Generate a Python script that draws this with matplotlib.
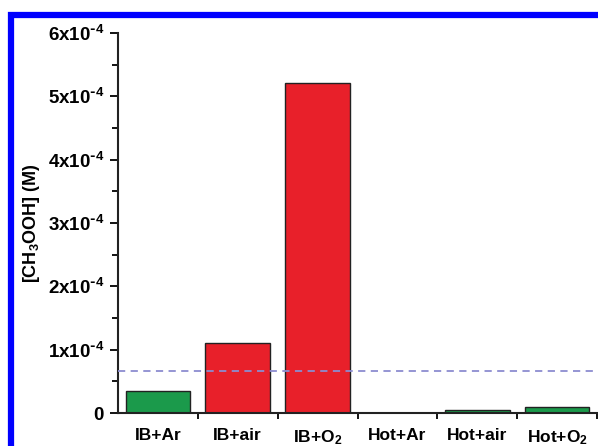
import matplotlib
matplotlib.use("Agg")
import matplotlib.pyplot as plt
from matplotlib.lines import Line2D
import numpy as np

categories = ["IB+Ar", "IB+air", "IB+O$_2$", "Hot+Ar", "Hot+air", "Hot+O$_2$"]
values = [0.35e-4, 1.10e-4, 5.21e-4, 0.0, 0.05e-4, 0.10e-4]
bar_colors = ["#1b9a4b", "#e8202a", "#e8202a", "#1b9a4b", "#1b9a4b", "#1b9a4b"]
threshold = 0.67e-4
ytick_vals = [0, 1e-4, 2e-4, 3e-4, 4e-4, 5e-4, 6e-4]
ytick_labels = ["0", r"1x10$^{\text{-}4}$", r"2x10$^{\text{-}4}$", r"3x10$^{\text{-}4}$",
                r"4x10$^{\text{-}4}$", r"5x10$^{\text{-}4}$", r"6x10$^{\text{-}4}$"]

plt.rcParams['font.family'] = ['Liberation Sans', 'DejaVu Sans']
plt.rcParams['mathtext.default'] = 'regular'
plt.rcParams['font.weight'] = 'bold'

fig = plt.figure(figsize=(5.98, 4.46), dpi=100)
ax = fig.add_axes([118/598, 1 - 413/446, (597 - 118)/598, (413 - 33)/446])

x = np.arange(len(categories))
ax.bar(x, values, width=0.81, color=bar_colors, edgecolor="#222222", linewidth=1.0, zorder=2)
ax.axhline(threshold, color="#8c8cd0", linestyle=(0, (4, 3)), linewidth=1.3, zorder=3)

ax.set_xlim(-0.5, len(categories) - 0.5)
ax.set_ylim(0, 6e-4)

ax.set_yticks(ytick_vals)
ax.set_yticklabels(ytick_labels, fontsize=13.5, fontweight='bold')
ax.set_yticks(np.arange(0.5e-4, 6e-4, 1e-4), minor=True)

ax.set_xticks(np.arange(0.5, len(categories) - 0.5 + 0.01, 1.0))
ax.set_xticklabels([])
ax.set_xticks(x, minor=True)
ax.set_xticklabels(categories, minor=True, fontsize=12.5, fontweight='bold')
ax.tick_params(axis='x', which='minor', length=0, pad=11)
ax.tick_params(axis='x', which='major', length=4, width=1.3, direction='out')
ax.tick_params(axis='y', which='major', length=6, width=1.3, direction='out', pad=4)
ax.tick_params(axis='y', which='minor', length=4, width=1.3, direction='out')

for s in ['top', 'right']:
    ax.spines[s].set_visible(False)
for s in ['left', 'bottom']:
    ax.spines[s].set_linewidth(1.5)
    ax.spines[s].set_color("#222222")

ax.set_ylabel("[CH$_3$OOH] (M)", fontsize=13, fontweight='bold', labelpad=4)

# blue frame
fig.add_artist(Line2D([11/598, 11/598, 1.01], [-0.01, 1 - 14.5/446, 1 - 14.5/446],
                      transform=fig.transFigure, color="#0000ff", linewidth=4.5,
                      solid_joinstyle='miter'))

fig.savefig("out.png", dpi=100)
